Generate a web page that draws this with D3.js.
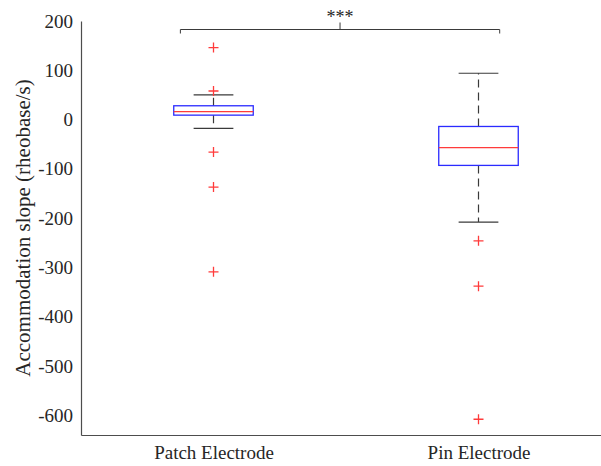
<!DOCTYPE html>
<html>
<head>
<meta charset="utf-8">
<script src="https://cdn.jsdelivr.net/npm/d3@7"></script>
<style>
  html, body { margin: 0; padding: 0; background: #fff; }
  svg { display: block; }
  text { font-family: "Liberation Serif", "Times New Roman", serif; fill: #262626; }
</style>
</head>
<body>
<svg id="chart" width="601" height="466"></svg>
<script>
// Accommodation slope per recording method (box = quartiles, red line = median)
const categories = ["Patch Electrode", "Pin Electrode"];
const q1 = [9, -93];
const median = [16, -57];
const q3 = [28, -14];
const whiskerLow = [-18, -208];
const whiskerHigh = [50, 94];
const outliers = [
  [146, 58, -66, -137, -309],
  [-246, -338, -608]
];
const yTicks = [200, 100, 0, -100, -200, -300, -400, -500, -600];
const yTitle = "Accommodation slope (rheobase/s)";
const significance = "***";

const svg = d3.select("#chart");

const x = d3.scaleLinear().domain([0.5, 2.5]).range([81, 611]);
const y = d3.scaleLinear().domain([-640, 200]).range([435, 21]);

const boxHalf = 0.15;   // half box width, category units
const capHalf = 0.075;  // half whisker-cap width

const axisColor = "#4d4d4d";
const fontFam = "Liberation Serif";

// y axis: spine and labels only
const yAxis = d3.axisLeft(y).tickValues(yTicks).tickSize(0).tickPadding(8)
  .tickFormat(d => String(d));
const gy = svg.append("g").attr("transform", `translate(${x(0.5)},0)`).call(yAxis);
gy.select(".domain").attr("stroke", axisColor).attr("stroke-width", 1.2);
gy.selectAll("text").attr("font-size", 19).attr("font-family", fontFam).attr("fill", "#262626");

// x axis at the bottom
const xAxis = d3.axisBottom(x).tickValues([1, 2]).tickSize(0).tickPadding(11)
  .tickFormat((d, i) => categories[i]);
const gx = svg.append("g").attr("transform", `translate(0,${y(-640)})`).call(xAxis);
gx.select(".domain").attr("stroke", axisColor).attr("stroke-width", 1.2);
gx.selectAll("text").attr("font-size", 19).attr("font-family", fontFam).attr("fill", "#262626");

// y title
svg.append("text")
  .attr("transform", `translate(23,${(y(200) + y(-640)) / 2}) rotate(-90)`)
  .attr("text-anchor", "middle")
  .attr("dominant-baseline", "central")
  .attr("font-size", 21)
  .text(yTitle);

const data = categories.map((c, i) => ({
  pos: i + 1, q1: q1[i], med: median[i], q3: q3[i],
  lo: whiskerLow[i], hi: whiskerHigh[i], out: outliers[i]
}));

const groups = svg.append("g").selectAll("g").data(data).join("g");

// whiskers (dashed)
groups.each(function(d) {
  const g = d3.select(this);
  [[d.q3, d.hi], [d.q1, d.lo]].forEach(([from, to]) => {
    g.append("line")
      .attr("x1", x(d.pos)).attr("x2", x(d.pos))
      .attr("y1", y(from)).attr("y2", y(to))
      .attr("stroke", "#3a3a3a").attr("stroke-width", 1.2)
      .attr("stroke-dasharray", "8,5");
    g.append("line")
      .attr("x1", x(d.pos - capHalf)).attr("x2", x(d.pos + capHalf))
      .attr("y1", y(to)).attr("y2", y(to))
      .attr("stroke", "#3a3a3a").attr("stroke-width", 1.2);
  });
});

// boxes
groups.append("rect")
  .attr("x", d => x(d.pos - boxHalf))
  .attr("width", d => x(d.pos + boxHalf) - x(d.pos - boxHalf))
  .attr("y", d => y(d.q3))
  .attr("height", d => y(d.q1) - y(d.q3))
  .attr("fill", "none")
  .attr("stroke", "#2b2bff").attr("stroke-width", 1.3);

// medians
groups.append("line")
  .attr("x1", d => x(d.pos - boxHalf)).attr("x2", d => x(d.pos + boxHalf))
  .attr("y1", d => y(d.med)).attr("y2", d => y(d.med))
  .attr("stroke", "#ff3b3b").attr("stroke-width", 1.3);

// outliers as red plus markers
groups.each(function(d) {
  const g = d3.select(this);
  d.out.forEach(v => {
    const cx = x(d.pos), cy = y(v), r = 5;
    g.append("path")
      .attr("d", `M${cx - r},${cy}H${cx + r}M${cx},${cy - r}V${cy + r}`)
      .attr("stroke", "#ff3b3b").attr("stroke-width", 1.3).attr("fill", "none");
  });
});

// significance bracket
const bx0 = x(0.875), bx1 = x(2.08), bmid = (bx0 + bx1) / 2, by = 29.5;
svg.append("path")
  .attr("d", `M${bx0},${by + 4}V${by}H${bx1}V${by + 4}M${bmid},${by}V${by - 7}`)
  .attr("fill", "none").attr("stroke", "#3a3a3a").attr("stroke-width", 1);
svg.append("text")
  .attr("x", bmid).attr("y", 23)
  .attr("text-anchor", "middle")
  .attr("font-size", 18)
  .text(significance);
</script>
</body>
</html>
